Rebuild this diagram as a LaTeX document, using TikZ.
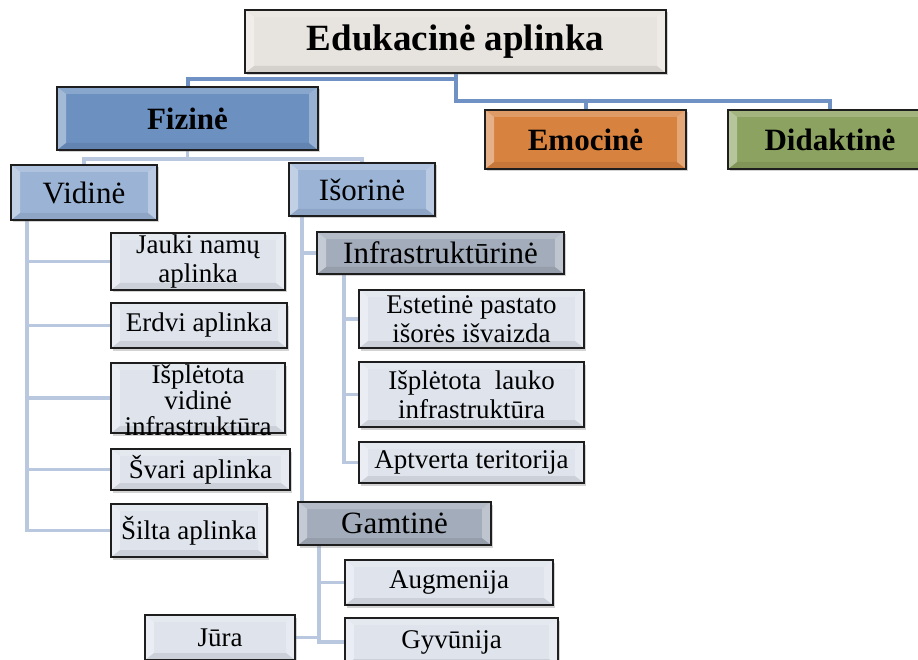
\documentclass[tikz,border=0pt]{standalone}
\usepackage{fontspec}
\setmainfont{Liberation Serif}
\usetikzlibrary{shadows}
\pgfdeclarelayer{background}
\pgfsetlayers{background,main}
\definecolor{edufill}{HTML}{E7E3DE}
\definecolor{fizfill}{HTML}{6C90C0}
\definecolor{emofill}{HTML}{D8823F}
\definecolor{didfill}{HTML}{8CA260}
\definecolor{midfill}{HTML}{9BB4D6}
\definecolor{grayfill}{HTML}{A3ACBA}
\definecolor{leaffill}{HTML}{DEE3EC}
\definecolor{topline}{HTML}{6F91C3}
\definecolor{subline}{HTML}{B9C7DF}
\definecolor{edge}{HTML}{1E1E1E}
\tikzset{
  bevel/.style={path picture={
    \fill[white,opacity=.38] (path picture bounding box.north west) -- ([shift={(9pt,-7pt)}]path picture bounding box.north west) -- ([shift={(9pt,7pt)}]path picture bounding box.south west) -- (path picture bounding box.south west) -- cycle;
    \fill[white,opacity=.3] (path picture bounding box.north east) -- ([shift={(-9pt,-7pt)}]path picture bounding box.north east) -- ([shift={(-9pt,7pt)}]path picture bounding box.south east) -- (path picture bounding box.south east) -- cycle;
    \fill[white,opacity=.2] (path picture bounding box.north west) -- (path picture bounding box.north east) -- ([shift={(-9pt,-7pt)}]path picture bounding box.north east) -- ([shift={(9pt,-7pt)}]path picture bounding box.north west) -- cycle;
    \fill[black,opacity=.08] (path picture bounding box.south west) -- (path picture bounding box.south east) -- ([shift={(-9pt,7pt)}]path picture bounding box.south east) -- ([shift={(9pt,7pt)}]path picture bounding box.south west) -- cycle;
  }},
  box/.style={draw=edge, line width=2.2pt, inner sep=0pt, align=center, bevel,
    drop shadow={opacity=.35, shadow xshift=2pt, shadow yshift=-2.5pt}},
  titlebox/.style={box, fill=edufill, font=\fontsize{37}{40}\selectfont\bfseries},
  catbox/.style={box, font=\fontsize{31}{33}\selectfont\bfseries},
  midbox/.style={box, fill=midfill, font=\fontsize{31}{33}\selectfont},
  graybox/.style={box, fill=grayfill, font=\fontsize{31}{33}\selectfont},
  leafbox/.style={box, fill=leaffill, font=\fontsize{27}{29}\selectfont},
  plaintext/.style={inner sep=0pt, align=center, font=\fontsize{27}{26}\selectfont},
  topconn/.style={draw=topline, line width=4pt},
  subconn/.style={draw=subline, line width=3.5pt},
}
\begin{document}
\begin{tikzpicture}[x=1pt,y=-1pt]
\useasboundingbox (0,0) rectangle (918,660);
\clip (0,0) rectangle (918,660);
% level 0 and 1
\node[titlebox, minimum width=421pt, minimum height=63pt] (edu) at (455.5,41.5) {Edukacinė aplinka};
\node[catbox, fill=fizfill, minimum width=261pt, minimum height=63pt] (fiz) at (187.5,118.5) {Fizinė};
\node[catbox, fill=emofill, minimum width=201pt, minimum height=59pt] (emo) at (585.5,139.5) {Emocinė};
\node[catbox, fill=didfill, minimum width=204pt, minimum height=59pt] (did) at (830,139.5) {Didaktinė};
% level 2
\node[midbox, minimum width=146pt, minimum height=55pt] (vid) at (84,192.5) {Vidinė};
\node[midbox, minimum width=146pt, minimum height=53pt] (iso) at (362,189.5) {Išorinė};
% Vidinė children
\node[leafbox, minimum width=174pt, minimum height=57pt] (jauki) at (198,261.5) {Jauki namų\\aplinka};
\node[leafbox, minimum width=176pt, minimum height=45pt] (erdvi) at (199,325.5) {Erdvi aplinka};
\node[leafbox, minimum width=174pt, minimum height=70pt] (ispv) at (198,398) {};
\node[plaintext] (ispvtext) at (198,400) {Išplėtota\\vidinė\\infrastruktūra};
\node[leafbox, minimum width=179pt, minimum height=41pt] (svari) at (200.5,469.5) {Švari aplinka};
\node[leafbox, minimum width=156pt, minimum height=53pt] (silta) at (189,530.5) {Šilta aplinka};
% Išorinė children
\node[graybox, minimum width=247pt, minimum height=42pt] (infra) at (440.5,253) {Infrastruktūrinė};
\node[leafbox, minimum width=225pt, minimum height=58pt] (est) at (471.5,319) {Estetinė pastato\\išorės išvaizda};
\node[leafbox, minimum width=225pt, minimum height=65pt] (lauko) at (471.5,394.5) {Išplėtota\ \ lauko\\infrastruktūra};
\node[leafbox, minimum width=225pt, minimum height=41pt] (apt) at (471.5,462.5) {Aptverta teritorija};
\node[graybox, minimum width=193pt, minimum height=43pt] (gam) at (394.5,523.5) {Gamtinė};
\node[leafbox, minimum width=208pt, minimum height=45pt] (aug) at (449,582.5) {Augmenija};
\node[leafbox, minimum width=213pt, minimum height=48pt] (gyv) at (451.5,642) {Gyvūnija};
\node[leafbox, minimum width=150pt, minimum height=45pt] (jura) at (220,637.5) {Jūra};
% connectors
\begin{pgfonlayer}{background}
\draw[topconn] (fiz.north) -- ++(0,-7) -| (edu.south);
\draw[topconn] (edu.south) -- ++(0,27) coordinate (tj) -| (emo.north);
\draw[topconn] (tj) -| (did.north);
\draw[subconn] (fiz.south) -- ++(0,8) coordinate (fj) -| (vid.north);
\draw[subconn] (fj) -| (iso.north);
\coordinate (vtrunk) at ([xshift=17pt]vid.south west);
\foreach \c in {jauki,erdvi,ispv,svari,silta} \draw[subconn] (vtrunk) |- (\c.west);
\coordinate (itrunk) at ([xshift=14pt]iso.south west);
\draw[subconn] (itrunk) |- (infra.west);
\draw[subconn] (itrunk) -- (itrunk |- gam.north);
\coordinate (ftrunk) at ([xshift=28pt]infra.south west);
\foreach \c in {est,lauko,apt} \draw[subconn] (ftrunk) |- (\c.west);
\coordinate (gtrunk) at ([xshift=22pt]gam.south west);
\draw[subconn] (gtrunk) |- (aug.west);
\draw[subconn] (gtrunk) |- (gyv.west);
\draw[subconn] (jura.east) -- (jura.east -| gtrunk);
\end{pgfonlayer}
\end{tikzpicture}
\end{document}
